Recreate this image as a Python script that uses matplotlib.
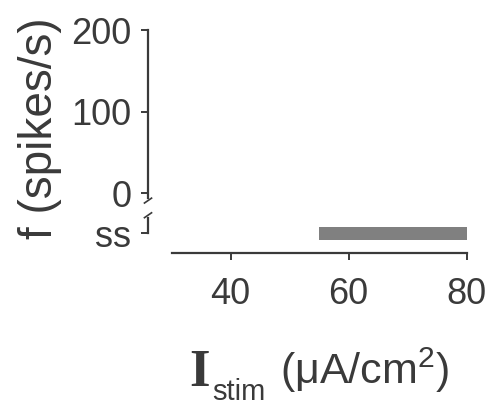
import matplotlib
matplotlib.use("Agg")
import matplotlib.pyplot as plt

# data
ss_level = -49
bar_start = [55]
bar_width = [25]
xticks = [40, 60, 80]
yticks = [200, 100, 0, ss_level]
yticklabels = ['200', '100', '0', 'ss']

plt.rcParams['font.family'] = ['Liberation Sans', 'DejaVu Sans']
plt.rcParams['mathtext.fontset'] = 'custom'
plt.rcParams['mathtext.rm'] = 'Liberation Sans'
plt.rcParams['mathtext.sf'] = 'Liberation Sans'

ink = '#3a3a3a'
W, H = 489, 405
fig = plt.figure(figsize=(4.89, 4.05), dpi=100)
ax = fig.add_axes([148/W, 1-253.5/H, 324.5/W, 223.5/H])

ax.barh(ss_level, bar_width, left=bar_start, height=16, color='#808080')

ax.set_xlim(26, 81)
ax.set_ylim(-74, 200.5)

for s in ['top', 'right']:
    ax.spines[s].set_visible(False)
ax.spines['bottom'].set_bounds(30, 80)
ax.spines['left'].set_bounds(-6, 200)
for s in ['bottom', 'left']:
    ax.spines[s].set_linewidth(1.6)
    ax.spines[s].set_color(ink)

# lower piece of broken y axis with break marks
ax.plot([26, 26], [-30, ss_level], color=ink, lw=1.6, clip_on=False)
for yb in [-9, -27]:
    ax.plot([25.4, 26.6], [yb - 3, yb + 3], color=ink, lw=1.2, clip_on=False)

ax.set_xticks(xticks)
ax.set_yticks(yticks)
ax.set_yticklabels(yticklabels)
ax.tick_params(axis='both', direction='out', length=5, width=1.4, color=ink,
               labelsize=26, labelcolor=ink)
ax.tick_params(axis='y', pad=7)
ax.tick_params(axis='x', pad=12)

# y label
fig.text(40/W, 1-128/H, 'f (spikes/s)', rotation=90, fontsize=33, color=ink,
         ha='center', va='center')

# x label: serif I, subscript "stim", units
fig.text(189/W, 1-386/H, 'I', family='Liberation Serif', weight='bold',
         fontsize=38, color=ink, ha='left', va='baseline')
fig.text(212/W, 1-400/H, 'stim', fontsize=21, color=ink, ha='left', va='baseline')
fig.text(280/W, 1-384/H, r'(μA/cm$^{2}$)', fontsize=31, color=ink,
         ha='left', va='baseline')

fig.savefig('out.png', dpi=100)
